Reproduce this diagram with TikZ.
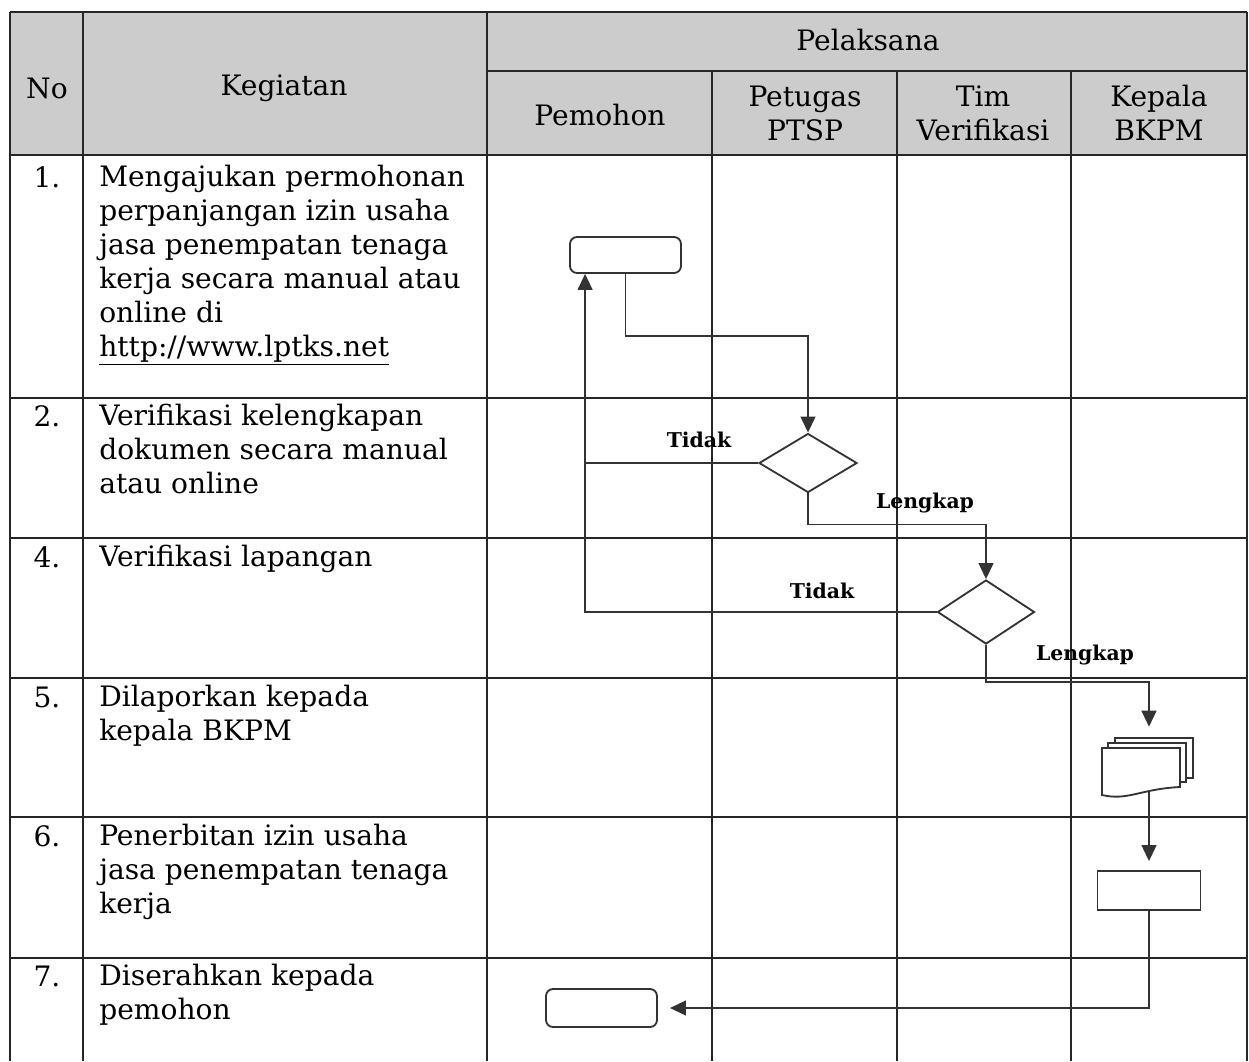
\documentclass[tikz,border=0pt]{standalone}
\usepackage{fontspec}
\setmainfont{DejaVu Serif}
\usepackage{tikz}
\usetikzlibrary{arrows.meta, shapes.geometric}

\begin{document}
\begin{tikzpicture}[x=0.025cm, y=-0.025cm,
		garis/.style={line width=1.3pt, black!85},
		alur/.style={line width=1.3pt, black!80},
		panah/.style={alur, -{Triangle[length=4mm, width=3.7mm]}},
		judul/.style={font=\fontsize{20pt}{24.2pt}\selectfont, align=center, inner sep=0pt},
		isi/.style={font=\fontsize{20pt}{24.2pt}\selectfont, align=left, anchor=north west, inner sep=0pt},
		nomor/.style={font=\fontsize{20pt}{24.2pt}\selectfont, anchor=base, inner sep=0pt},
		ket/.style={font=\fontsize{14.5pt}{16pt}\selectfont\bfseries, inner sep=0pt},
		proses/.style={draw, alur, fill=white, rounded corners=5pt, inner sep=0pt},
		kotak/.style={draw, alur, fill=white, inner sep=0pt, minimum width=2.575cm, minimum height=0.975cm},
		putusan/.style={draw, alur, fill=white, diamond, inner sep=0pt}]
			\useasboundingbox (0,0) rectangle (1249,1061);
			
			\fill[black!20] (10,12) rectangle (1247,155);
			\draw[garis] (10,12) -- (1247,12);
			\draw[garis] (487,71) -- (1247,71);
			\foreach \y in {155,398,538,678,817,958}
				\draw[garis] (10,\y) -- (1247,\y);
			\foreach \x in {10,83,487,1247}
				\draw[garis] (\x,12) -- (\x,1061);
			\foreach \x in {712,897,1071}
				\draw[garis] (\x,71) -- (\x,1061);
			
			\node[judul] (hno) at (47,88) {No};
			\node[judul] (hkeg) at (284,88) {Kegiatan};
			\node[judul] (hpel) at (868,40) {Pelaksana};
			\node[judul] (hpem) at (600,115) {Pemohon};
			\node[judul] (hptsp) at (805,113) {Petugas\\PTSP};
			\node[judul] (htim) at (983,113) {Tim\\Verifikasi};
			\node[judul] (hkep) at (1159,113) {Kepala\\BKPM};
			
			\node[nomor] (n1) at (47,187) {1.};
			\node[nomor] (n2) at (47,426) {2.};
			\node[nomor] (n4) at (47,567) {4.};
			\node[nomor] (n5) at (47,707) {5.};
			\node[nomor] (n6) at (47,846) {6.};
			\node[nomor] (n7) at (47,986) {7.};
			
			\node[isi] (k1) at (99,165) {Mengajukan permohonan\\perpanjangan izin usaha\\jasa penempatan tenaga\\kerja secara manual atau\\online di\\\underline{http://www.lptks.net}};
			\node[isi] (k2) at (99,404) {Verifikasi kelengkapan\\dokumen secara manual\\atau online};
			\node[isi] (k4) at (99,545) {Verifikasi lapangan};
			\node[isi] (k5) at (99,685) {Dilaporkan kepada\\kepala BKPM};
			\node[isi] (k6) at (99,824) {Penerbitan izin usaha\\jasa penempatan tenaga\\kerja};
			\node[isi] (k7) at (99,964) {Diserahkan kepada\\pemohon};
			
			\node[proses, minimum width=2.775cm, minimum height=0.9cm] (daftar) at (625.5,255) {};
			\node[putusan, minimum width=2.45cm, minimum height=1.475cm] (cek1) at (808,463) {};
			\node[putusan, minimum width=2.425cm, minimum height=1.6cm] (cek2) at (986,612) {};
			\node[minimum width=2.275cm, minimum height=1.425cm, inner sep=0pt] (lapor) at (1149,766.5) {};
			\node[kotak] (izin) at (1149,890.5) {};
			\node[proses, minimum width=2.775cm, minimum height=0.95cm] (serah) at (601.5,1008) {};
			\coordinate (balik) at ([xshift=0.4cm]daftar.south west);
			
			\draw[alur] (1115,743) -- (1115,738) -- (1193,738) -- (1193,778) -- (1186,778);
			\draw[alur] (1108,748) -- (1108,743) -- (1186,743) -- (1186,782) -- (1180,782);
			\draw[alur, fill=white] (1102,748) -- (1180,748) -- (1180,787) .. controls (1140,789) and (1128,801) .. (1102,795) -- cycle;
			
			\draw[panah] (daftar.south) -- ++(0,62) -| (cek1.north);
			\draw[panah] (cek1.west) -| (balik);
			\draw[panah] (cek1.south) -- ++(0,31) -| (cek2.north);
			\draw[alur] (cek2.west) -| (balik |- cek1.west);
			\draw[panah, shorten >=0.275cm] (cek2.south) -- ++(0,37) -| (lapor.north);
			\draw[panah, shorten >=0.225cm] ([yshift=0.1cm]lapor.south) -- (izin.north);
			\draw[panah, shorten >=0.3cm] (izin.south) |- (serah.east);
			
			\node[ket] (tidak1) at (699,440) {Tidak};
			\node[ket] (lengkap1) at (925,503) {Lengkap};
			\node[ket] (tidak2) at (822,591) {Tidak};
			\node[ket] (lengkap2) at (1085,655) {Lengkap};
		\end{tikzpicture}
\end{document}
